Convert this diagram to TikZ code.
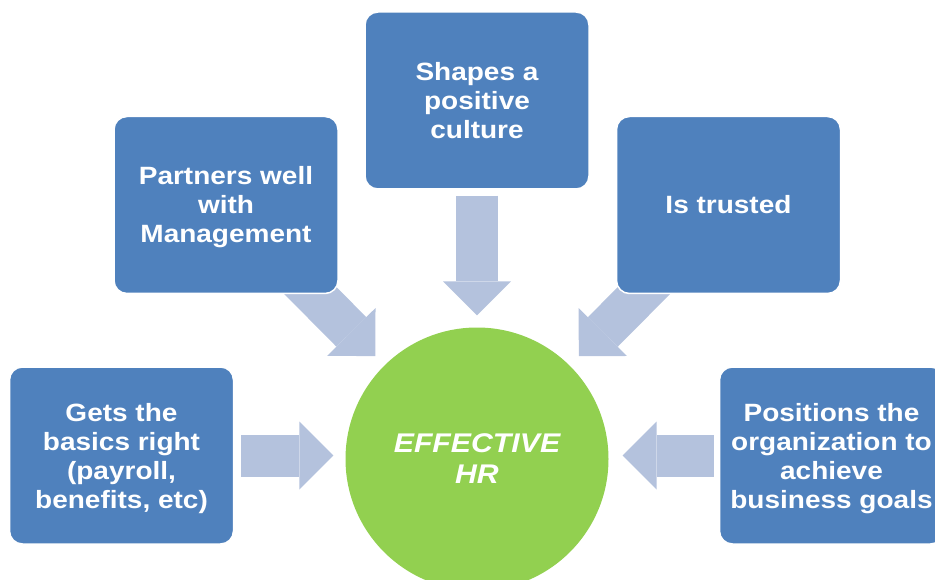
\documentclass[tikz,border=0pt]{standalone}
\usepackage{fontspec}
\setmainfont{Liberation Sans}[FakeStretch=1.12]
\usetikzlibrary{arrows.meta,backgrounds}
\definecolor{boxblue}{RGB}{79,129,189}
\definecolor{arrowblue}{RGB}{180,194,221}
\definecolor{hubgreen}{RGB}{146,208,80}
% fixed line height/depth, so descenders do not shift the block
\newcommand{\boxstrut}{\rule[-5.3pt]{0pt}{28.6pt}}
\tikzstyle{idea} = [
    rectangle,
    rounded corners=13pt,
    minimum width=224pt,
    minimum height=177pt,
    inner sep=0pt,
    align=center,
    draw=white,
    line width=1.5pt,
    fill=boxblue,
    text=white,
    font=\fontsize{25}{29}\selectfont\bfseries
]
\tikzstyle{hub} = [
    circle,
    minimum size=263pt,
    inner sep=0pt,
    align=center,
    fill=hubgreen,
    text=white,
    font=\fontsize{27}{31}\selectfont\bfseries\itshape
]
\tikzstyle{feed} = [
    line width=42pt,
    draw=arrowblue,
    -{Triangle[length=34pt,width=68pt,line width=0pt]}
]

\begin{document}
\begin{tikzpicture}[x=1pt,y=-1pt]
    \useasboundingbox (0,0) rectangle (935,580);
    \node[hub] (hr) at (477,459) {EFFECTIVE\\HR};
    \node[idea] (culture) at (477,100.5) {\boxstrut Shapes a\\positive\\culture\boxstrut};
    \node[idea] (mgmt) at (226,205) {\boxstrut Partners well\\with\\Management\boxstrut};
    \node[idea] (trust) at (728.5,205) {\boxstrut Is trusted\boxstrut};
    \node[idea] (basics) at (121.5,455.5) {\boxstrut Gets the\\basics right\\(payroll,\\benefits, etc)\boxstrut};
    \node[idea] (goals) at (831.5,455.5) {\boxstrut Positions the\\organization to\\achieve\\business goals\boxstrut};
    % block arrows sit behind the boxes
    \begin{scope}[on background layer]
        \draw[feed, shorten <=6pt, shorten >=12pt] (culture.south) -- (hr.north);
        \draw[feed, shorten <=-40pt, shorten >=13pt] (mgmt) -- (hr);
        \draw[feed, shorten <=-40pt, shorten >=13pt] (trust) -- (hr);
        \draw[feed, shorten <=7pt, shorten >=12pt] (basics.east) -- (basics.east -| hr.west);
        \draw[feed, shorten <=5pt, shorten >=14pt] (goals.west) -- (goals.west -| hr.east);
    \end{scope}
\end{tikzpicture}
\end{document}
